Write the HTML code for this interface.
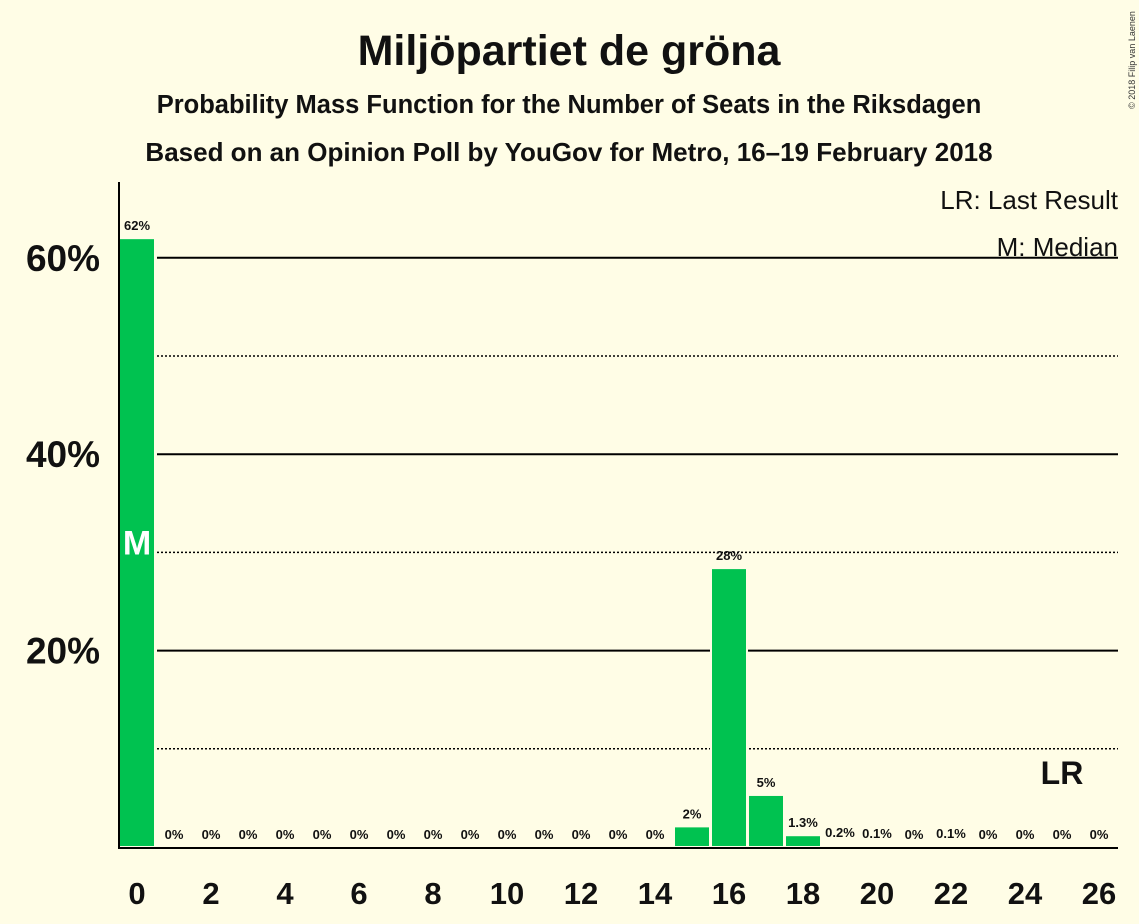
<!DOCTYPE html>
<html><head><meta charset="utf-8"><style>
body{margin:0;background:#fffde6;}
svg{display:block;font-family:"Liberation Sans",sans-serif;font-weight:bold;}
</style></head><body>
<svg width="1139" height="924" id="chart">
<rect width="1139" height="924" fill="#fffde6"/>
<text x="569" y="65" font-size="43" text-anchor="middle" fill="#111">Miljöpartiet de gröna</text>
<text x="569" y="113" font-size="25.5" text-anchor="middle" fill="#111">Probability Mass Function for the Number of Seats in the Riksdagen</text>
<text x="569" y="161" font-size="26" text-anchor="middle" fill="#111">Based on an Opinion Poll by YouGov for Metro, 16–19 February 2018</text>
<text x="1118" y="209" font-size="26" text-anchor="end" fill="#111" font-weight="normal">LR: Last Result</text>
<text x="1118" y="256" font-size="26" text-anchor="end" fill="#111" font-weight="normal">M: Median</text>
<text transform="translate(1135,60) rotate(-90)" font-size="9" font-weight="normal" text-anchor="middle" fill="#333">© 2018 Filip van Laenen</text>
<g id="grid"></g><g id="bars"></g><g id="axes"></g>
</svg>
<script>
const seats=[0,1,2,3,4,5,6,7,8,9,10,11,12,13,14,15,16,17,18,19,20,21,22,23,24,25,26];
const probs=[62,0,0,0,0,0,0,0,0,0,0,0,0,0,0,2.1,28.4,5.3,1.2,0.2,0.1,0,0.1,0,0,0,0];
const labels=["62%","0%","0%","0%","0%","0%","0%","0%","0%","0%","0%","0%","0%","0%","0%","2%","28%","5%","1.3%","0.2%","0.1%","0%","0.1%","0%","0%","0%","0%"];
const yTicks=[20,40,60];
const yMinor=[10,30,50];
const xTicks=[0,2,4,6,8,10,12,14,16,18,20,22,24,26];
const medianSeat=0, lastResult=25;
const NS="http://www.w3.org/2000/svg";
const x=s=>137+s*37, y=v=>847-v*9.82;
function mk(t,a,p){const e=document.createElementNS(NS,t);for(const k in a)e.setAttribute(k,a[k]);p.appendChild(e);return e;}
const grid=document.getElementById('grid'),bars=document.getElementById('bars'),axes=document.getElementById('axes');
yTicks.forEach(v=>{const l=mk('line',{x1:157,x2:1118,y1:y(v),y2:y(v),stroke:'#000','stroke-width':2},grid);


const t=mk('text',{x:100,y:y(v)+13,'font-size':37,'text-anchor':'end',fill:'#111'},axes);t.textContent=v+'%';

});
yMinor.forEach(v=>{const l=mk('line',{x1:157,x2:1118,y1:y(v),y2:y(v),stroke:'#000','stroke-width':1.5,'stroke-dasharray':'2,2'},grid);

});
seats.forEach((s,i)=>{const v=probs[i];
if(v>0){const r=mk('rect',{x:x(s)-18,y:y(v),width:36,height:y(0)-y(v),fill:'#00c250',stroke:'#fffde6','stroke-width':2},bars);

}
const t=mk('text',{x:x(s),y:(v>0?y(v):847)-8,'font-size':13,'text-anchor':'middle',fill:'#111'},bars);t.textContent=labels[i];

});
const m=mk('text',{x:x(medianSeat),y:y(probs[medianSeat]/2)+12,'font-size':34,'text-anchor':'middle',fill:'#fff'},bars);m.textContent='M';


const lr=mk('text',{x:x(lastResult),y:784,'font-size':32,'text-anchor':'middle',fill:'#111'},bars);lr.textContent='LR';


const ya=mk('line',{x1:119,x2:119,y1:182,y2:848,stroke:'#000','stroke-width':2},axes);


const xa=mk('line',{x1:118,x2:1118,y1:848,y2:848,stroke:'#000','stroke-width':2},axes);


xTicks.forEach(s=>{const t=mk('text',{x:x(s),y:904,'font-size':31,'text-anchor':'middle',fill:'#111'},axes);t.textContent=s;

});
</script>
</body></html>
